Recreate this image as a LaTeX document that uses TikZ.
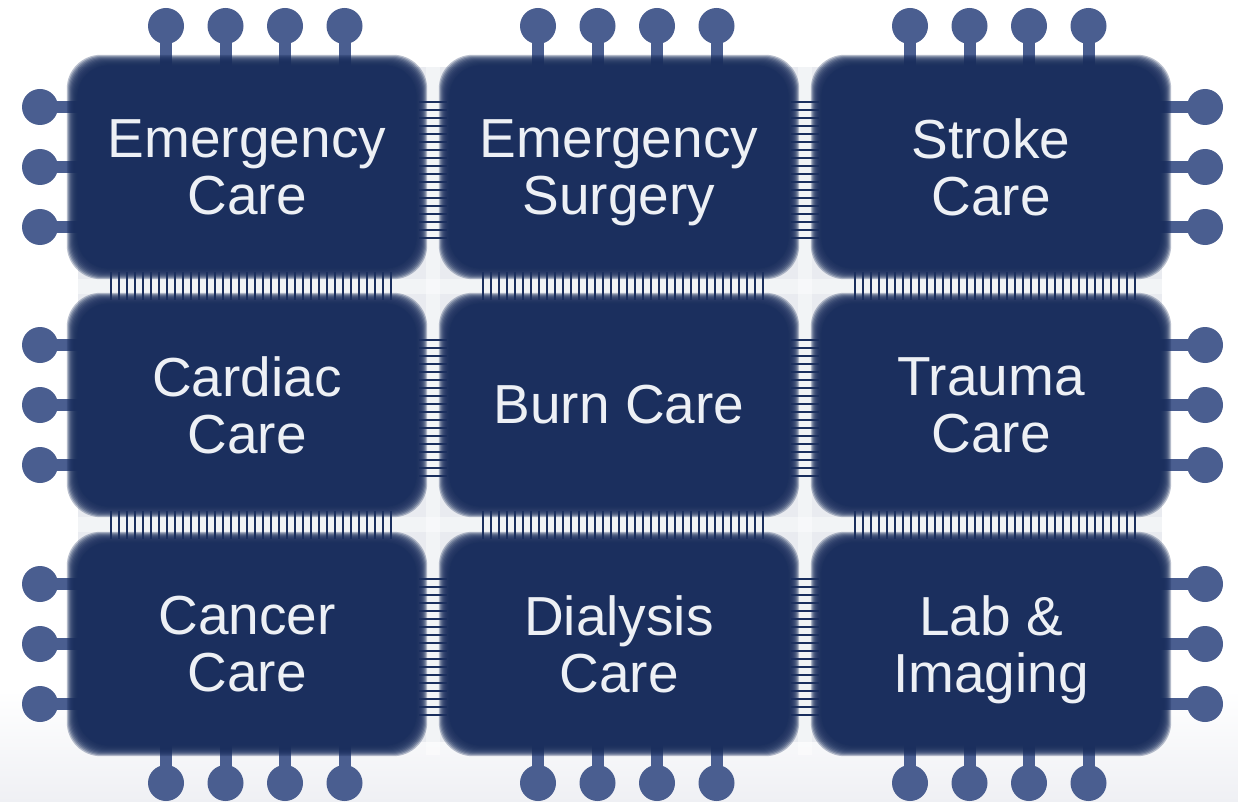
\documentclass[tikz,border=0pt]{standalone}
\usepackage{fontspec}
\setmainfont{Liberation Sans}
\definecolor{navy}{HTML}{1B2F5E}
\definecolor{pinblue}{HTML}{4A5E90}
\definecolor{panel}{HTML}{E9EBF0}
\definecolor{labelwhite}{HTML}{EDF0F5}
\definecolor{floorgray}{HTML}{EFF0F4}
\pgfdeclarelayer{bg}
\pgfdeclarelayer{pins}
\pgfdeclarelayer{tilefill}
\pgfsetlayers{bg,pins,tilefill,main}
% last line without its descender, so every label sits on the same baseline grid
\newcommand{\nodesc}[1]{\raisebox{0pt}[\height][0pt]{#1}}

\begin{document}
\begin{tikzpicture}[x=1pt,y=-1pt,
  tile/.style={rectangle, minimum width=350pt, minimum height=214pt,
    inner sep=0pt, align=center, text=labelwhite,
    font=\fontsize{55}{57}\selectfont},
  softfill/.style={fill=navy, fill opacity=0.3, rounded corners=34pt},
  chippin/.style={circle, fill=pinblue, minimum size=36pt, inner sep=0pt},
  stem/.style={draw=pinblue, line width=12pt},
  hatch/.style={draw=navy, line width=2pt},
  glow/.style={fill=white, fill opacity=0.45}]

\useasboundingbox (0,0) rectangle (1238,802);

% chip tiles: three columns, three rows (labels only; bodies drawn below)
\node[tile] (r1c1) at (247,167) {Emergency\\Care};
\node[tile] (r1c2) at (619,167) {Emergency\\\nodesc{Surgery}};
\node[tile] (r1c3) at (991,167) {Stroke\\Care};
\node[tile] (r2c1) at (247,405) {Cardiac\\Care};
\node[tile] (r2c2) at (619,405) {Burn Care};
\node[tile] (r2c3) at (991,405) {Trauma\\Care};
\node[tile] (r3c1) at (247,644) {Cancer\\Care};
\node[tile] (r3c2) at (619,644) {Dialysis\\Care};
\node[tile] (r3c3) at (991,644) {Lab \&\\\nodesc{Imaging}};

% tile bodies with soft edges: stacked translucent rounded rectangles
\begin{pgfonlayer}{tilefill}
  \foreach \t in {r1c1,r1c2,r1c3,r2c1,r2c2,r2c3,r3c1,r3c2,r3c3} {
    \foreach \d in {5,4,3,2,1,0,-1,-2,-3,-4,-5} {
      \fill[softfill] ([shift={(-\d,-\d)}]\t.north west)
        rectangle ([shift={(\d,\d)}]\t.south east);
    }
    \fill[navy, rounded corners=30pt] ([shift={(6,6)}]\t.north west)
      rectangle ([shift={(-6,-6)}]\t.south east);
  }
\end{pgfonlayer}

% backdrop, gap glow and bus lines between tiles
\begin{pgfonlayer}{bg}
  \fill[white] (0,0) rectangle (1238,802);
  \shade[top color=white, bottom color=floorgray] (0,690) rectangle (1238,802);
  \fill[panel] (78,67) rectangle (1162,742);
  \fill[glow] (426,56) rectangle (440,755);
  \fill[glow] (798,56) rectangle (812,755);
  \fill[glow] (68,279) rectangle (1170,294);
  \fill[glow] (68,517) rectangle (1170,532);
  \foreach \gx in {433,805} {
    \foreach \ry in {56,294,533} {
      \foreach \k in {0,...,17} {
        \draw[hatch] (\gx-14,\ry+46+8*\k) -- (\gx+14,\ry+46+8*\k);
      }
    }
  }
  \foreach \gy in {286,524.5} {
    \foreach \cx in {68,440,812} {
      \foreach \k in {0,...,35} {
        \draw[hatch] (\cx+43+8*\k,\gy-14) -- (\cx+43+8*\k,\gy+14);
      }
    }
  }
\end{pgfonlayer}

% pins on the outer edges, each tied to its tile
\begin{pgfonlayer}{pins}
  \foreach \c/\cx in {1/247,2/619,3/991} {
    \foreach \k/\dx in {1/-81,2/-21.5,3/38,4/97.5} {
      \node[chippin] (pt\c\k) at (\cx+\dx,26) {};
      \draw[stem] (pt\c\k.center) -- ([yshift=-14pt]pt\c\k.center |- r1c\c.north);
      \node[chippin] (pb\c\k) at (\cx+\dx,783) {};
      \draw[stem] (pb\c\k.center) -- ([yshift=14pt]pb\c\k.center |- r3c\c.south);
    }
  }
  \foreach \r/\ry in {1/167,2/405,3/644} {
    \foreach \k/\dy in {1/-60,2/0,3/60} {
      \node[chippin] (pl\r\k) at (40,\ry+\dy) {};
      \draw[stem] (pl\r\k.center) -- ([xshift=14pt]pl\r\k.center -| r\r c1.west);
      \node[chippin] (pr\r\k) at (1205,\ry+\dy) {};
      \draw[stem] (pr\r\k.center) -- ([xshift=-14pt]pr\r\k.center -| r\r c3.east);
    }
  }
\end{pgfonlayer}

\end{tikzpicture}
\end{document}
